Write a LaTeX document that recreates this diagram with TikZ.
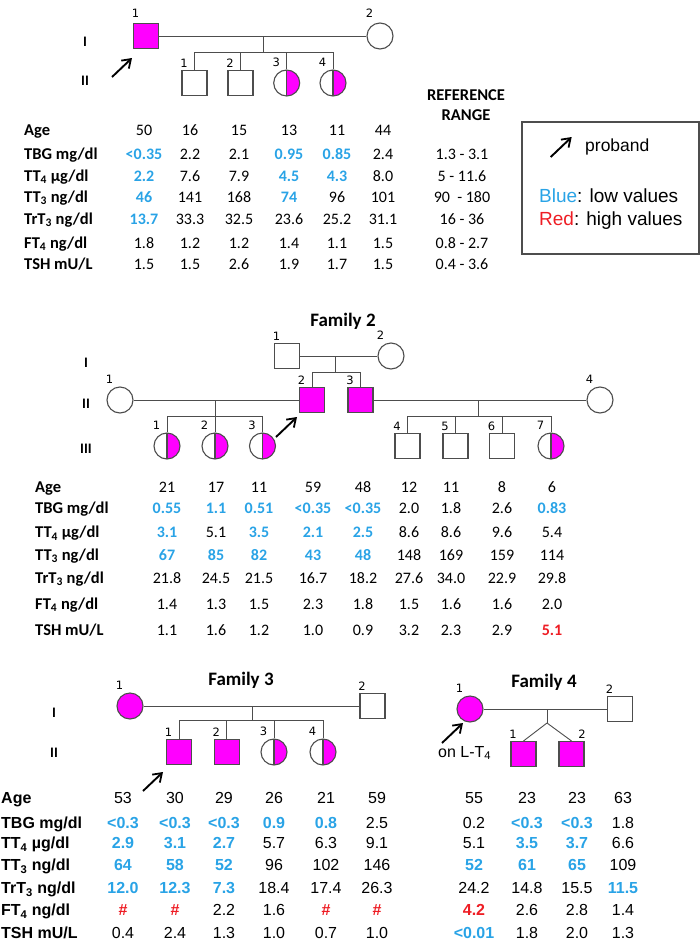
\documentclass[tikz,border=0pt]{standalone}
\usepackage{fontspec}
\setmainfont{Carlito}
\newfontfamily\arialfont{Liberation Sans}
\newfontfamily\idfont{DejaVu Sans}
\usetikzlibrary{arrows.meta,positioning}
\definecolor{PedMagenta}{HTML}{FF00FF}
\definecolor{PedLine}{HTML}{4D4D4D}
\definecolor{LowBlue}{HTML}{29A3E6}
\definecolor{HighRed}{HTML}{EE1D24}
\newcommand\lo[1]{\textcolor{LowBlue}{\bfseries #1}}
\newcommand\hi[1]{\textcolor{HighRed}{\bfseries #1}}
\newcommand\labtext[1]{\ifcase#1\or Age\or TBG mg/dl\or TT\textsubscript{4} µg/dl\or
  TT\textsubscript{3} ng/dl\or TrT\textsubscript{3} ng/dl\or FT\textsubscript{4} ng/dl\or TSH mU/L\fi}
% one row of values: name, columns, baseline, style, values
\newcommand\datarow[5]{%
  \foreach \dv [count=\dc] in {#5}{%
    \pgfmathsetmacro\colx{#2[\dc-1]}%
    \node[#4] (#1\dc) at (\colx,#3) {\dv};}}
\def\colsA{{144,190,239,289,337,383,462}}
\def\colsB{{167,216,259,313,363,409,451,502,552}}
\def\colsC{{123,175,224,274,326,377,474,527,577,623}}
\tikzset{
  pedshape/.style={draw=PedLine, line width=1.1pt, inner sep=0pt, fill=white},
  male/.style={pedshape, rectangle, minimum size=25pt},
  female/.style={pedshape, circle, minimum size=26pt},
  affected/.style={fill=PedMagenta},
  carrier/.style={female, path picture={
    \fill[PedMagenta] (path picture bounding box.north) rectangle (path picture bounding box.south east);
    \draw[PedLine, line width=1.1pt] (path picture bounding box.north) -- (path picture bounding box.south);}},
  ped/.style={draw=PedLine, line width=0.9pt},
  probarrow/.style={-{Straight Barb[length=8pt,width=11pt,line width=1.8pt]}, line width=1.9pt},
  idbase/.style={font=\idfont\fontsize{11.5}{11.5}\selectfont, inner sep=0pt, label distance=2.5pt},
  idl/.style={idbase, xshift=-10.5pt},
  idr/.style={idbase, xshift=10.5pt},
  genlab/.style={font=\bfseries\fontsize{14.5}{14.5}\selectfont, inner sep=0pt},
  famtitle/.style={font=\bfseries\fontsize{19}{19}\selectfont, inner sep=0pt, anchor=base},
  rowlab/.style={font=\bfseries\fontsize{16.5}{18}\selectfont, inner sep=0pt, anchor=base west},
  cell/.style={font=\fontsize{16}{18}\selectfont, inner sep=0pt, anchor=base},
  arowlab/.style={rowlab, font=\arialfont\bfseries\fontsize{16}{18}\selectfont},
  acell/.style={cell, font=\arialfont\fontsize{16}{18}\selectfont},
  legtxt/.style={font=\arialfont\fontsize{19}{21}\selectfont, inner sep=0pt, anchor=base west},
}
\begin{document}
\begin{tikzpicture}[x=1pt,y=-1pt]
\useasboundingbox (0,0) rectangle (700,943);

% ---------- Family 1 ----------
\node[male,affected,label={[idl,label distance=5pt]above:1}] (f1i1) at (146,36) {};
\node[female,label={[idl,label distance=5pt]above:2}] (f1i2) at (380,36) {};
\node[male,label={[idl]above:1}] (f1ii1) at (194.5,83) {};
\node[male,label={[idl]above:2}] (f1ii2) at (240.5,83) {};
\node[carrier,label={[idl]above:3}] (f1ii3) at (286.7,83) {};
\node[carrier,label={[idl]above:4}] (f1ii4) at (333,83) {};
\coordinate (f1m) at (263,36);
\coordinate (f1s) at (263,52);
\draw[ped] (f1i1) -- (f1i2);
\draw[ped] (f1m) -- (f1s);
\draw[ped] (f1ii1 |- f1s) -- (f1ii4 |- f1s);
\foreach \k in {1,...,4} \draw[ped] (f1ii\k |- f1s) -- (f1ii\k);
\node[genlab] (f1g1) at (85,42) {I};
\node[genlab] (f1g2) at (85,81) {II};
\coordinate (f1pt) at (112,77);
\coordinate (f1ph) at (132,58);
\draw[probarrow] (f1pt) -- (f1ph);

\foreach \yy [count=\r] in {135,159,181,202,224,248,269}
  \node[rowlab] (f1lab\r) at (24,\yy) {\labtext{\r}};
\node[rowlab,anchor=base] (f1ref1) at (466,100) {REFERENCE};
\node[rowlab,anchor=base] (f1ref2) at (466,120) {RANGE};
\datarow{f1age}{\colsA}{135}{cell}{50,16,15,13,11,44}
\datarow{f1tbg}{\colsA}{159}{cell}{\lo{<0.35},2.2,2.1,\lo{0.95},\lo{0.85},2.4,1.3 - 3.1}
\datarow{f1tt4}{\colsA}{181}{cell}{\lo{2.2},7.6,7.9,\lo{4.5},\lo{4.3},8.0,5 - 11.6}
\datarow{f1tt3}{\colsA}{202}{cell}{\lo{46},141,168,\lo{74},96,101,90\ \ - 180}
\datarow{f1rt3}{\colsA}{224}{cell}{\lo{13.7},33.3,32.5,23.6,25.2,31.1,16 - 36}
\datarow{f1ft4}{\colsA}{248}{cell}{1.8,1.2,1.2,1.4,1.1,1.5,0.8 - 2.7}
\datarow{f1tsh}{\colsA}{269}{cell}{1.5,1.5,2.6,1.9,1.7,1.5,0.4 - 3.6}

% legend
\node[draw=PedLine, line width=1.1pt, minimum width=177pt, minimum height=132pt, inner sep=0pt] (legend) at (610.5,188) {};
\coordinate (legpt) at (550.7,157);
\coordinate (legph) at (571.7,137);
\draw[probarrow] (legpt) -- (legph);
\node[legtxt, font=\arialfont\fontsize{17.5}{20}\selectfont] (legpro) at (585,151) {proband};
\node[legtxt] (leglow) at (539,202.5) {\textcolor{LowBlue}{Blue}: low values};
\node[legtxt] (leghigh) at (539,225.5) {\textcolor{HighRed}{Red}: high values};

% ---------- Family 2 ----------
\node[famtitle] (f2title) at (343,326) {Family 2};
\node[male,label={[idl]above:1}] (f2i1) at (287,356) {};
\node[female,label={[idl]above:2}] (f2i2) at (391,356) {};
\node[female,label={[idl]above:1}] (f2ii1) at (120,400) {};
\node[male,affected,label={[idl]above:2}] (f2ii2) at (312,400) {};
\node[male,affected,label={[idl]above:3}] (f2ii3) at (360.5,400) {};
\node[female,label={[idl]above:4}] (f2ii4) at (600,400) {};
\node[carrier,label={[idl]above:1}] (f2iii1) at (167,446) {};
\node[carrier,label={[idl]above:2}] (f2iii2) at (215,446) {};
\node[carrier,label={[idl]above:3}] (f2iii3) at (262.5,446) {};
\node[male,label={[idl]above:4}] (f2iii4) at (407.5,446) {};
\node[male,label={[idl]above:5}] (f2iii5) at (455.5,446) {};
\node[male,label={[idl]above:6}] (f2iii6) at (502,446) {};
\node[carrier,label={[idl]above:7}] (f2iii7) at (551,446) {};
\coordinate (f2m1) at (335,356);
\coordinate (f2s1) at (335,372);
\coordinate (f2m2) at (215,400);
\coordinate (f2s2) at (215,416);
\coordinate (f2m3) at (478,400);
\coordinate (f2s3) at (478,416);
\draw[ped] (f2i1) -- (f2i2);
\draw[ped] (f2m1) -- (f2s1);
\draw[ped] (f2ii2 |- f2s1) -- (f2ii3 |- f2s1);
\foreach \k in {2,3} \draw[ped] (f2ii\k |- f2s1) -- (f2ii\k);
\draw[ped] (f2ii1) -- (f2ii2);
\draw[ped] (f2m2) -- (f2s2);
\draw[ped] (f2iii1 |- f2s2) -- (f2iii3 |- f2s2);
\foreach \k in {1,2,3} \draw[ped] (f2iii\k |- f2s2) -- (f2iii\k);
\draw[ped] (f2ii3) -- (f2ii4);
\draw[ped] (f2m3) -- (f2s3);
\draw[ped] (f2iii4 |- f2s3) -- (f2iii7 |- f2s3);
\foreach \k in {4,...,7} \draw[ped] (f2iii\k |- f2s3) -- (f2iii\k);
\node[genlab] (f2g1) at (86,363) {I};
\node[genlab] (f2g2) at (86,404) {II};
\node[genlab] (f2g3) at (86,449) {III};
\coordinate (f2pt) at (276,437);
\coordinate (f2ph) at (297,417);
\draw[probarrow] (f2pt) -- (f2ph);

\foreach \yy [count=\r] in {492,513,537.5,560,583,609,635}
  \node[rowlab] (f2lab\r) at (35,\yy) {\labtext{\r}};
\datarow{f2age}{\colsB}{492}{cell}{21,17,11,59,48,12,11,8,6}
\datarow{f2tbg}{\colsB}{513}{cell}{\lo{0.55},\lo{1.1},\lo{0.51},\lo{<0.35},\lo{<0.35},2.0,1.8,2.6,\lo{0.83}}
\datarow{f2tt4}{\colsB}{537.5}{cell}{\lo{3.1},5.1,\lo{3.5},\lo{2.1},\lo{2.5},8.6,8.6,9.6,5.4}
\datarow{f2tt3}{\colsB}{560}{cell}{\lo{67},\lo{85},\lo{82},\lo{43},\lo{48},148,169,159,114}
\datarow{f2rt3}{\colsB}{583}{cell}{21.8,24.5,21.5,16.7,18.2,27.6,34.0,22.9,29.8}
\datarow{f2ft4}{\colsB}{609}{cell}{1.4,1.3,1.5,2.3,1.8,1.5,1.6,1.6,2.0}
\datarow{f2tsh}{\colsB}{635}{cell}{1.1,1.6,1.2,1.0,0.9,3.2,2.3,2.9,\hi{5.1}}

% ---------- Family 3 ----------
\node[famtitle] (f3title) at (241,685) {Family 3};
\node[female,affected,label={[idl]above:1}] (f3i1) at (130,706) {};
\node[male,label={[idl]above:2}] (f3i2) at (372.5,706) {};
\node[male,affected,label={[idl]above:1}] (f3ii1) at (179,752) {};
\node[male,affected,label={[idl]above:2}] (f3ii2) at (226.7,752) {};
\node[carrier,label={[idl]above:3}] (f3ii3) at (274,752) {};
\node[carrier,label={[idl]above:4}] (f3ii4) at (323,752) {};
\coordinate (f3m) at (252,706);
\coordinate (f3s) at (252,720);
\draw[ped] (f3i1) -- (f3i2);
\draw[ped] (f3m) -- (f3s);
\draw[ped] (f3ii1 |- f3s) -- (f3ii4 |- f3s);
\foreach \k in {1,...,4} \draw[ped] (f3ii\k |- f3s) -- (f3ii\k);
\node[genlab] (f3g1) at (54,713) {I};
\node[genlab] (f3g2) at (54,753) {II};
\coordinate (f3pt) at (143,791);
\coordinate (f3ph) at (163,772);
\draw[probarrow] (f3pt) -- (f3ph);

% ---------- Family 4 ----------
\node[famtitle] (f4title) at (544,687) {Family 4};
\node[female,affected,label={[idl]above:1}] (f4i1) at (470,709) {};
\node[male,label={[idl]above:2}] (f4i2) at (620,709) {};
\node[male,affected,label={[idl]above:1}] (f4ii1) at (523.5,754) {};
\node[male,affected,label={[idr]above:2}] (f4ii2) at (571.5,754) {};
\coordinate (f4m) at (547,709);
\coordinate (f4tw) at (547,723);
\draw[ped] (f4i1) -- (f4i2);
\draw[ped] (f4m) -- (f4tw);
\draw[ped] (f4tw) -- (f4ii1.north);
\draw[ped] (f4tw) -- (f4ii2.north);
\coordinate (f4pt) at (442,743);
\coordinate (f4ph) at (463,723);
\draw[probarrow] (f4pt) -- (f4ph);
\node[acell,anchor=base west] (f4note) at (438,757) {on L-T\textsubscript{4}};

% tables of families 3 and 4
\foreach \yy [count=\r] in {803.5,828.5,848.5,870.5,893.5,915.5,938.5}
  \node[arowlab] (f3lab\r) at (1,\yy) {\labtext{\r}};
\datarow{f3age}{\colsC}{803.5}{acell}{53,30,29,26,21,59,55,23,23,63}
\datarow{f3tbg}{\colsC}{828.5}{acell}{\lo{<0.3},\lo{<0.3},\lo{<0.3},\lo{0.9},\lo{0.8},2.5,0.2,\lo{<0.3},\lo{<0.3},1.8}
\datarow{f3tt4}{\colsC}{848.5}{acell}{\lo{2.9},\lo{3.1},\lo{2.7},5.7,6.3,9.1,5.1,\lo{3.5},\lo{3.7},6.6}
\datarow{f3tt3}{\colsC}{870.5}{acell}{\lo{64},\lo{58},\lo{52},96,102,146,\lo{52},\lo{61},\lo{65},109}
\datarow{f3rt3}{\colsC}{893.5}{acell}{\lo{12.0},\lo{12.3},\lo{7.3},18.4,17.4,26.3,24.2,14.8,15.5,\lo{11.5}}
\datarow{f3ft4}{\colsC}{915.5}{acell}{\hi{\#},\hi{\#},2.2,1.6,\hi{\#},\hi{\#},\hi{4.2},2.6,2.8,1.4}
\datarow{f3tsh}{\colsC}{938.5}{acell}{0.4,2.4,1.3,1.0,0.7,1.0,\lo{<0.01},1.8,2.0,1.3}
\end{tikzpicture}
\end{document}
